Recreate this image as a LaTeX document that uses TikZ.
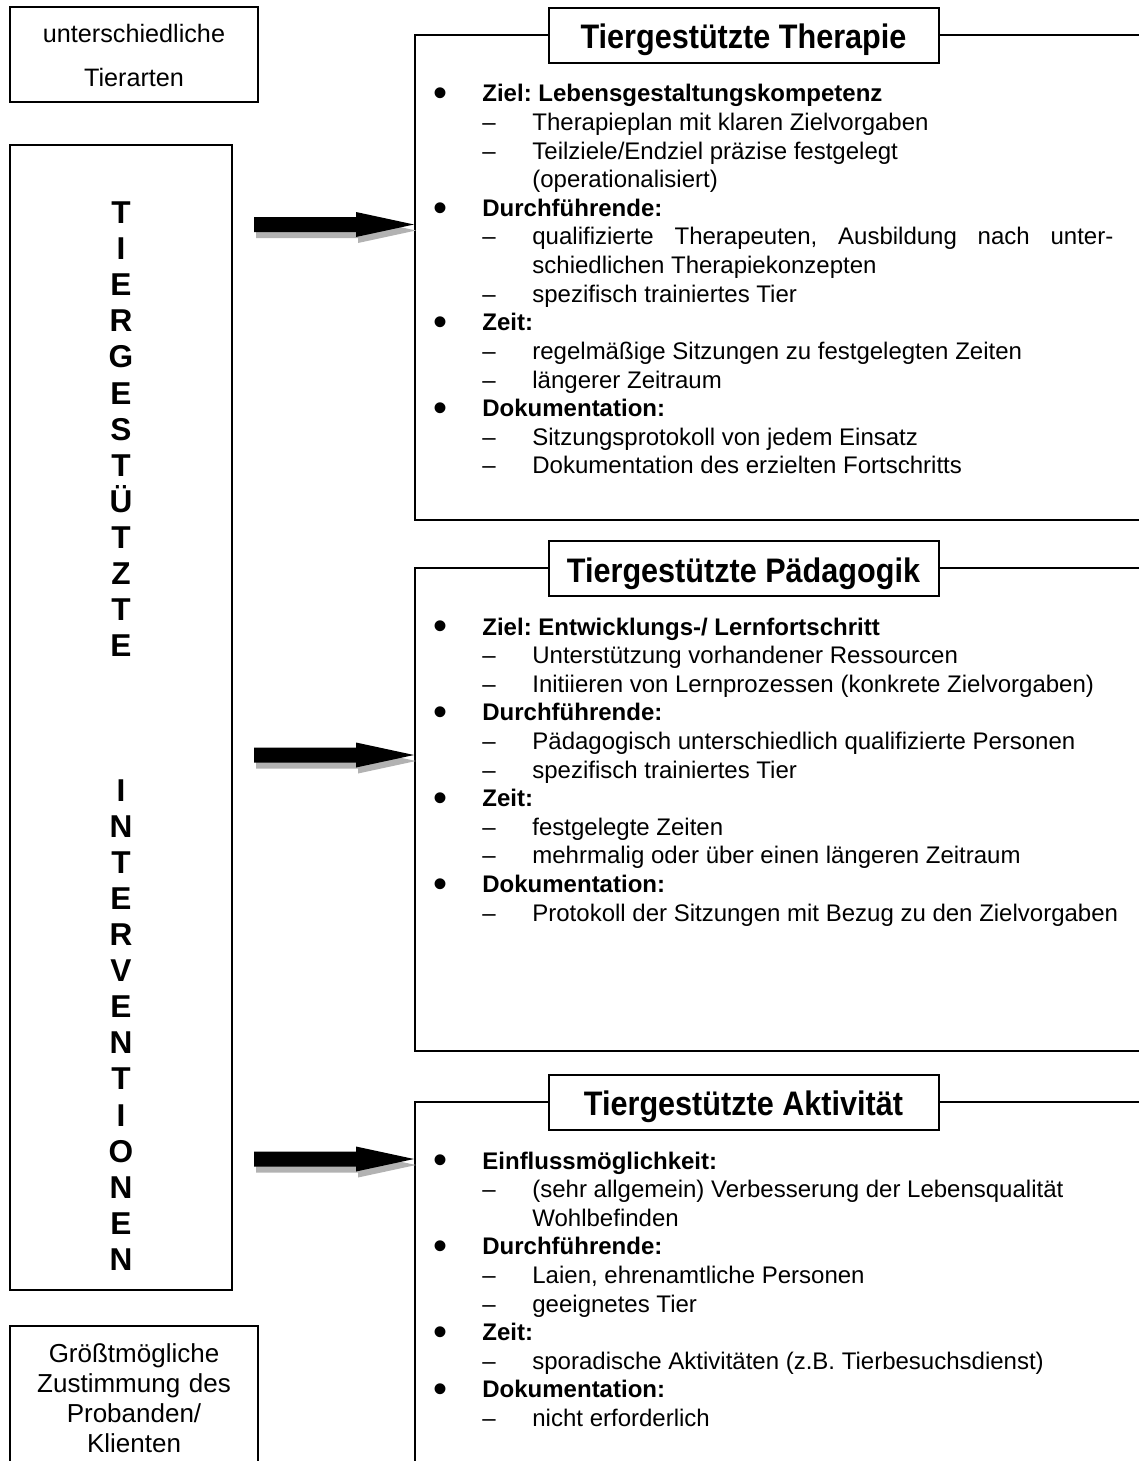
\documentclass[tikz,border=0pt]{standalone}
\usepackage{fontspec}
\setmainfont{Liberation Sans}
\newfontfamily\titlefont[FakeStretch=0.9]{Liberation Sans}
\usepackage{array}
\usetikzlibrary{positioning}

% list rows: bullet line and dash line
\newcommand\bitem[1]{\hspace*{9.5pt}\raisebox{-2.4pt}{\fontsize{20}{14.3}\selectfont\textbullet}
  & \multicolumn{2}{@{}l@{}}{\bfseries #1}\\}
\newcommand\ditem[1]{& \textendash & #1\\}
\newenvironment{boxlist}{\fontsize{12}{14.3}\selectfont\frenchspacing
  \begin{tabular}[t]{@{}p{34pt}@{}p{25pt}@{}p{300pt}@{}}}{\end{tabular}}
% block arrow with grey shadow, tip at coordinate #1
\newcommand\blockarrow[1]{%
  \fill[arrowshadow] ([xshift=1pt,yshift=-3pt]#1) -- ++(-58,-12.5) -- ++(0,5) -- ++(-102,0)
    -- ++(0,15) -- ++(102,0) -- ++(0,5) -- cycle;
  \fill[black] (#1) -- ++(-58,-12.5) -- ++(0,5) -- ++(-102,0)
    -- ++(0,15) -- ++(102,0) -- ++(0,5) -- cycle;}

\begin{document}
\begin{tikzpicture}[
    x=0.5pt, y=-0.5pt,
    boxline/.style={line width=1pt},
    titlebox/.style={draw, fill=white, line width=1pt, minimum width=195pt, minimum height=27.5pt,
      inner sep=0pt, text height=16pt, text depth=2.5pt, font=\titlefont\fontsize{17}{18}\selectfont\bfseries},
    listtext/.style={anchor=base west, inner sep=0pt},
    sidetext/.style={anchor=base, inner sep=0pt, text width=124pt, align=center},
    arrowshadow/.style={fill=black!30}
]
\useasboundingbox (0,0) rectangle (1139,1461);

% left column
\draw[boxline] (10,7) rectangle (258,102);
\node[sidetext, font=\fontsize{12.6}{22}\selectfont] (tierarten) at (134,43) {unterschiedliche\\Tierarten};

\draw[boxline] (10,145) rectangle (232,1290);
\node[anchor=base, inner sep=0pt, text width=40pt, align=center,
      font=\fontsize{15.8}{18.05}\selectfont\bfseries] (letters) at (121,223.5)
  {T\\I\\E\\R\\G\\E\\S\\T\\Ü\\T\\Z\\T\\E\\[54.15pt]I\\N\\T\\E\\R\\V\\E\\N\\T\\I\\O\\N\\E\\N};

\draw[boxline] (10,1461) -- (10,1326) -- (258,1326) -- (258,1461);
\node[sidetext, font=\fontsize{13}{15}\selectfont] (zustimmung) at (134,1362)
  {Größtmögliche\\Zustimmung des\\Probanden/\\Klienten};

% frames
\draw[boxline] (1139,35) -- (415,35) -- (415,520) -- (1139,520);
\draw[boxline] (1139,568) -- (415,568) -- (415,1051) -- (1139,1051);
\draw[boxline] (1139,1102) -- (415,1102) -- (415,1461);

\node[titlebox] (therapie) at (743.5,35.5) {Tiergestützte Therapie};
\node[titlebox] (paedagogik) at (743.5,568.5) {Tiergestützte Pädagogik};
\node[titlebox] (aktivitaet) at (743.5,1102) {Tiergestützte Aktivität};

% arrows
\coordinate (tip1) at (414,224.5);
\coordinate (tip2) at (414,755);
\coordinate (tip3) at (414,1159);
\blockarrow{tip1}
\blockarrow{tip2}
\blockarrow{tip3}

% contents
\node[listtext] (thertext) at (414,102) {\begin{boxlist}
\bitem{Ziel: Lebensgestaltungskompetenz}
\ditem{Therapieplan mit klaren Zielvorgaben}
\ditem{Teilziele/Endziel präzise festgelegt\newline(operationalisiert)}
\bitem{Durchführende:}
\ditem{\makebox[290.5pt][s]{qualifizierte Therapeuten, Ausbildung nach unter-}\newline schiedlichen Therapiekonzepten}
\ditem{spezifisch trainiertes Tier}
\bitem{Zeit:}
\ditem{regelmäßige Sitzungen zu festgelegten Zeiten}
\ditem{längerer Zeitraum}
\bitem{Dokumentation:}
\ditem{Sitzungsprotokoll von jedem Einsatz}
\ditem{Dokumentation des erzielten Fortschritts}
\end{boxlist}};

\node[listtext] (paedtext) at (414,635) {\begin{boxlist}
\bitem{Ziel: Entwicklungs-/ Lernfortschritt}
\ditem{Unterstützung vorhandener Ressourcen}
\ditem{Initiieren von Lernprozessen (konkrete Zielvorgaben)}
\bitem{Durchführende:}
\ditem{Pädagogisch unterschiedlich qualifizierte Personen}
\ditem{spezifisch trainiertes Tier}
\bitem{Zeit:}
\ditem{festgelegte Zeiten}
\ditem{mehrmalig oder über einen längeren Zeitraum}
\bitem{Dokumentation:}
\ditem{Protokoll der Sitzungen mit Bezug zu den Zielvorgaben}
\end{boxlist}};

\node[listtext] (akttext) at (414,1169) {\begin{boxlist}
\bitem{Einflussmöglichkeit:}
\ditem{(sehr allgemein) Verbesserung der Lebensqualität\newline Wohlbefinden}
\bitem{Durchführende:}
\ditem{Laien, ehrenamtliche Personen}
\ditem{geeignetes Tier}
\bitem{Zeit:}
\ditem{sporadische Aktivitäten (z.B. Tierbesuchsdienst)}
\bitem{Dokumentation:}
\ditem{nicht erforderlich}
\end{boxlist}};
\end{tikzpicture}
\end{document}
